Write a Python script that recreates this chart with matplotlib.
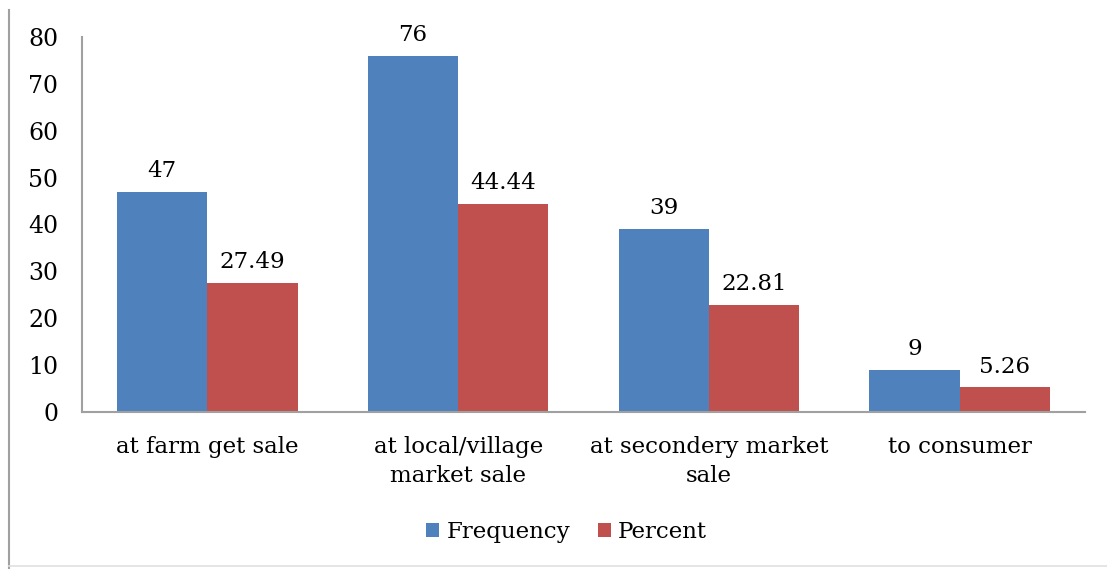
import numpy as np
import matplotlib.pyplot as plt
from matplotlib.lines import Line2D

categories = ["at farm get sale", "at local/village\nmarket sale", "at secondery market\nsale", "to consumer"]
frequency = [47, 76, 39, 9]
percent = [27.49, 44.44, 22.81, 5.26]
freq_labels = ["47", "76", "39", "9"]
pct_labels = ["27.49", "44.44", "22.81", "5.26"]

blue = "#4f81bd"
red = "#c0504d"

plt.rcParams['font.family'] = ['DejaVu Serif']
fs = 16.5

fig = plt.figure(figsize=(11.07, 5.69), dpi=100)
ax = fig.add_axes([0.0741, 0.276, 0.906, 0.659])

x = np.arange(len(categories))
w = 0.36
b1 = ax.bar(x - w/2, frequency, w, color=blue, label="Frequency")
b2 = ax.bar(x + w/2, percent, w, color=red, label="Percent")

for bars, labs in ((b1, freq_labels), (b2, pct_labels)):
    for b, t in zip(bars, labs):
        ax.annotate(t, (b.get_x() + b.get_width()/2, b.get_height()),
                    xytext=(0, 7), textcoords="offset points",
                    ha="center", va="bottom", fontsize=fs)

ax.set_xlim(-0.5, 3.5)
ax.set_ylim(0, 80)
ax.set_yticks(range(0, 81, 10))
ax.set_xticks(x)
ax.set_xticklabels(categories, fontsize=fs, linespacing=1.45)
ax.tick_params(axis='both', length=0)
ax.tick_params(axis='x', pad=17, labelsize=fs)
ax.tick_params(axis='y', pad=17, labelsize=17)

for s in ("top", "right"):
    ax.spines[s].set_visible(False)
for s in ("left", "bottom"):
    ax.spines[s].set_color("#a0a0a0")
    ax.spines[s].set_linewidth(1.5)

ax.legend(loc="upper center", bbox_to_anchor=(0.483, -0.237), ncol=2, frameon=False,
          fontsize=fs, handlelength=0.57, handleheight=0.57, handletextpad=0.3,
          columnspacing=1.2)

fig.add_artist(Line2D([9/1107, 9/1107], [0, 1 - 10/569], color="#a0a0a0", lw=1.5))
fig.add_artist(Line2D([9/1107, 1], [3/569, 3/569], color="#e0e0e0", lw=1.2))

fig.savefig("out.png", dpi=100)
